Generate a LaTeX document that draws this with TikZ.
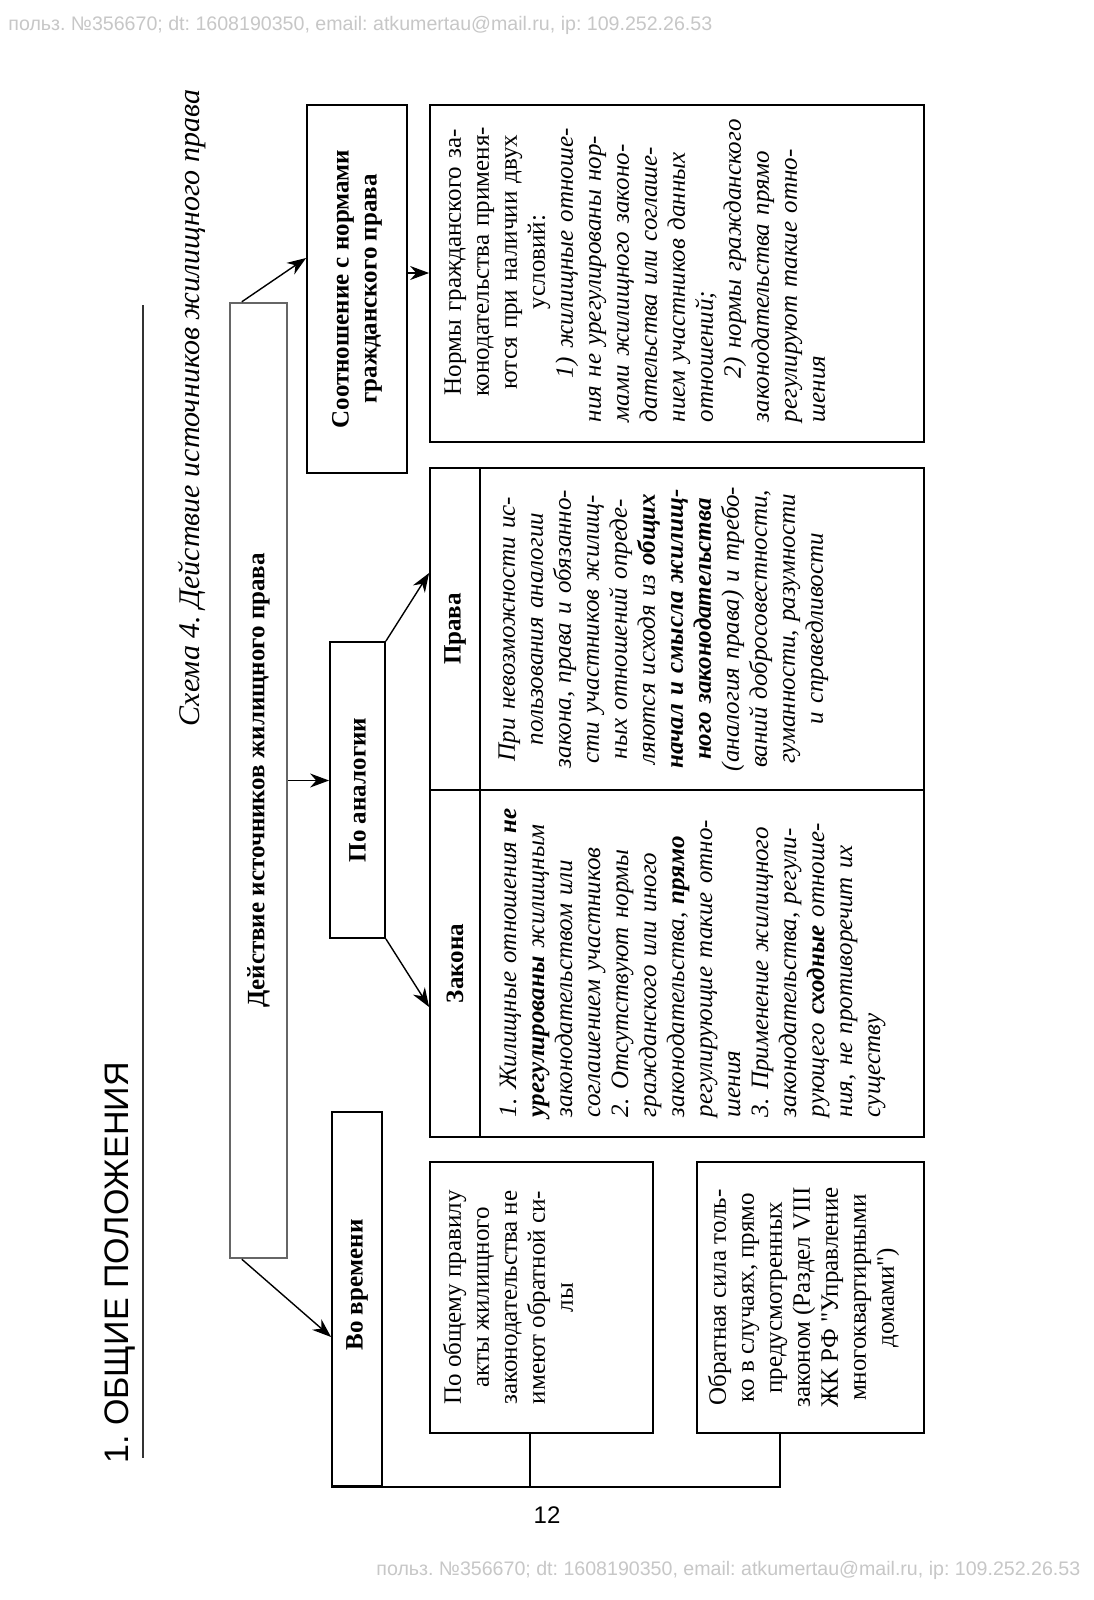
\documentclass[tikz,border=0pt]{standalone}
\usepackage{fontspec}
\setmainfont{Liberation Serif}
\newfontfamily\plainrm{Liberation Serif}
\newfontfamily\hsans{Liberation Sans}
\usetikzlibrary{arrows.meta,fit,calc}
\frenchspacing
\begin{document}
\begin{tikzpicture}[x=0.5pt,y=-0.5pt,
  frame/.style={draw=black, line width=0.9pt, inner sep=0pt},
  gframe/.style={draw=black!60, line width=1.2pt, inner sep=0pt},
  txt/.style={rotate=90, inner sep=0pt, font=\frenchspacing\fontsize{12.5}{14}\selectfont},
  btxt/.style={rotate=90, inner sep=0pt, font=\bfseries\fontsize{12.5}{14}\selectfont},
  itxt/.style={rotate=90, inner sep=0pt, font=\frenchspacing\itshape\fontsize{12.5}{14}\selectfont},
  arr/.style={-{Stealth[length=9.5pt,width=7pt]}, line width=0.7pt},
  conn/.style={line width=0.8pt},
  wm/.style={font=\hsans\fontsize{9.8}{11}\selectfont, text=black!22, inner sep=0pt, anchor=west}
]
\fill[white] (0,0) rectangle (1093,1600);
\useasboundingbox (0,0) rectangle (1093,1600);

% watermarks and page furniture
\node[wm] (wm1) at (8,25) {польз. №356670; dt: 1608190350, email: atkumertau@mail.ru, ip: 109.252.26.53};
\node[wm] (wm2) at (376,1570) {польз. №356670; dt: 1608190350, email: atkumertau@mail.ru, ip: 109.252.26.53};
\node[font=\hsans\fontsize{12}{14}\selectfont, inner sep=0pt] (pnum) at (547,1515) {12};
\node[rotate=90, font=\hsans\fontsize{17}{20}\selectfont, inner sep=0pt] (head) at (120,1263) {1. ОБЩИЕ ПОЛОЖЕНИЯ};
\draw[line width=0.7pt, black!80] (143,305) -- (143,1458);
\node[rotate=90, font=\itshape\fontsize{15}{18}\selectfont, inner sep=0pt] (capt) at (192,408) {Схема 4. Действие источников жилищного права};

% frames
\node[gframe, fit={(230,303) (287,1258)}] (big) {};
\node[frame, fit={(307,105) (407,473)}] (sootn) {};
\node[frame, fit={(430,105) (924,442)}] (normy) {};
\node[frame, fit={(330,642) (385,938)}] (analog) {};
\node[frame, fit={(430,468) (480,790)}] (prh) {};
\node[frame, fit={(480,468) (924,790)}] (prb) {};
\node[frame, fit={(430,790) (480,1137)}] (zkh) {};
\node[frame, fit={(480,790) (924,1137)}] (zkb) {};
\node[frame, fit={(332,1112) (382,1486)}] (vovr) {};
\node[frame, fit={(430,1162) (653,1433)}] (pobs) {};
\node[frame, fit={(697,1162) (924,1433)}] (obr) {};

% texts
\node[btxt] (bigt) at (big.center) {Действие источников жилищного права};
\node[btxt, align=center] (soott) at (sootn.center) {Соотношение с нормами\\гражданского права};
\node[txt, anchor=north, text width=160pt] (normyt) at ([xshift=7.5pt, yshift=5.75pt]normy.west)
  {{\centering Нормы гражданского за-\\конодательства применя-\\ются при наличии двух\\условий:\par}%
   {\raggedright\itshape\hspace*{22pt}1) жилищные отноше-\\ния не урегулированы нор-\\мами жилищного законо-\\дательства или соглаше-\\нием участников данных\\отношений;\\\hspace*{22pt}2) нормы гражданского\\законодательства прямо\\регулируют такие отно-\\шения\par}};
\node[btxt] (analogt) at (analog.center) {По аналогии};
\node[btxt] (prht) at (prh.center) {Права};
\node[btxt] (zkht) at (zkh.center) {Закона};
\node[itxt, anchor=north, text width=160pt, align=center] (prbt) at ([xshift=9.5pt]prb.west)
  {При невозможности ис-\\пользования аналогии\\закона, права и обязанно-\\сти участников жилищ-\\ных отношений опреде-\\ляются исходя из \textbf{общих}\\\textbf{начал и смысла жилищ-}\\\textbf{ного законодательства}\\(аналогия права) и требо-\\ваний добросовестности,\\гуманности, разумности\\и справедливости};
\node[itxt, anchor=north, text width=170pt, align=left] (zkbt) at ([xshift=10pt, yshift=8.25pt]zkb.west)
  {1. Жилищные отношения \textbf{не}\\\textbf{урегулированы} жилищным\\законодательством или\\соглашением участников\\2. Отсутствуют нормы\\гражданского или иного\\законодательства, \textbf{прямо}\\регулирующие такие отно-\\шения\\3. Применение жилищного\\законодательства, регули-\\рующего \textbf{сходные} отноше-\\ния, не противоречит их\\существу};
\node[btxt] (vovrt) at ([yshift=7pt]vovr.center) {Во времени};
\node[txt, anchor=north, align=center] (pobst) at ([xshift=6.75pt]pobs.west)
  {По общему правилу\\акты жилищного\\законодательства не\\имеют обратной си-\\лы};
\node[txt, anchor=north, align=center] (obrt) at ([xshift=5.75pt]obr.west)
  {Обратная сила толь-\\ко в случаях, прямо\\предусмотренных\\законом (Раздел VIII\\ЖК РФ {\plainrm"}Управление\\многоквартирными\\домами{\plainrm"})};

% connectors
\draw[arr] ([xshift=6.5pt]big.north west) -- ([yshift=15.5pt]sootn.west);
\draw[arr] (big.east) -- (big.east -| analog.west);
\draw[arr] ([xshift=6.5pt]big.south west) -- ([yshift=-19pt]vovr.west);
\coordinate (sa) at ([yshift=8pt]sootn.east);
\draw[arr] (sa) -- (sa -| normy.west);
\draw[arr] (analog.north east) -- ([yshift=28pt]prh.west);
\draw[arr] (analog.south east) -- ([yshift=-21.75pt]zkh.west);
\coordinate (s1) at ([xshift=-5.75pt]pobs.south);
\coordinate (s2) at ([xshift=-15.25pt]obr.south);
\draw[conn] (s2) |- (vovr.south west);
\draw[conn] (s1) -- (s1 |- vovr.south);
\end{tikzpicture}
\end{document}
